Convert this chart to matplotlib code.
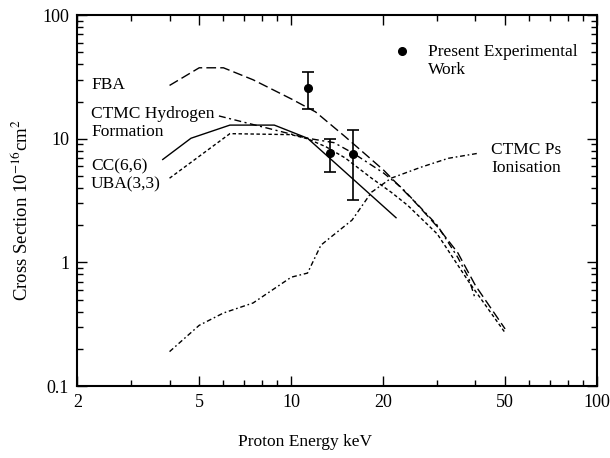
import matplotlib
matplotlib.use("Agg")
import matplotlib.pyplot as plt
from matplotlib.ticker import FixedLocator, NullFormatter, FixedFormatter

plt.rcParams['font.family'] = ['Liberation Serif', 'DejaVu Serif']
plt.rcParams['mathtext.fontset'] = 'stix'

# ---- data ----
fba_x = [4, 5, 6, 7.5, 10, 12, 15, 20, 25, 30, 35, 40, 50]
fba_y = [27, 37.5, 37.5, 30, 21, 16.5, 10.4, 5.6, 3.2, 1.95, 1.2, 0.65, 0.29]

ctmch_x = [5.8, 11.3, 13.8, 16, 20, 23, 30, 35, 38, 40]
ctmch_y = [15.3, 10.1, 9.3, 7.6, 5.3, 4.0, 2.0, 1.1, 0.75, 0.5]

cc_x = [3.8, 4.7, 6.3, 8.8, 11.3, 22]
cc_y = [6.8, 10.1, 12.9, 12.9, 10.1, 2.3]

uba_x = [4, 6.3, 10, 11.3, 13, 15, 18.3, 21.2, 24, 30, 38, 50]
uba_y = [4.8, 11, 10.8, 10, 8.6, 7, 4.8, 3.7, 2.9, 1.7, 0.7, 0.27]

ps_x = [4, 5, 6, 7.5, 10, 11.3, 12.5, 13.5, 15.8, 18.3, 21.2, 26.6, 32.6, 40.4]
ps_y = [0.19, 0.31, 0.39, 0.47, 0.76, 0.82, 1.38, 1.61, 2.2, 3.7, 4.8, 5.9, 6.95, 7.6]

exp_x = [11.3, 13.4, 15.9]
exp_y = [25.8, 7.7, 7.5]
exp_lo = [17.3, 5.4, 3.2]
exp_hi = [34.8, 9.9, 11.8]

xticks = [2, 5, 10, 20, 50, 100]
xticklabels = ["2", "5", "10", "20", "50", "100"]
yticks = [0.1, 1, 10, 100]
yticklabels = ["0.1", "1", "10", "100"]

fig = plt.figure(figsize=(6.1, 4.58), dpi=100)
ax = fig.add_axes([0.127, 0.157, 0.852, 0.810])
ax.set_xscale('log')
ax.set_yscale('log')
ax.set_xlim(2, 100)
ax.set_ylim(0.1, 100)

lw = 1.0
ax.plot(fba_x, fba_y, color='black', lw=lw, dashes=(7, 3))
ax.plot(ctmch_x, ctmch_y, color='black', lw=lw, dashes=(5, 2.5, 1.5, 2.5))
ax.plot(cc_x, cc_y, color='black', lw=lw, linestyle='-')
ax.plot(uba_x, uba_y, color='black', lw=lw, dashes=(2.5, 1.8))
ax.plot(ps_x, ps_y, color='black', lw=lw, dashes=(3.5, 2, 1.2, 2))

yerr = [[y - lo for y, lo in zip(exp_y, exp_lo)], [hi - y for y, hi in zip(exp_y, exp_hi)]]
ax.errorbar(exp_x, exp_y, yerr=yerr, fmt='o', color='black', ms=5.5,
            capsize=4, elinewidth=1.2, capthick=1.2)

# legend marker
ax.plot([0.625], [0.903], 'o', color='black', ms=5.5, transform=ax.transAxes, clip_on=False)

# ticks
minor_x = [3, 4, 6, 7, 8, 9, 30, 40, 60, 70, 80, 90]
ax.xaxis.set_major_locator(FixedLocator(xticks))
ax.xaxis.set_major_formatter(FixedFormatter(xticklabels))
ax.xaxis.set_minor_locator(FixedLocator(minor_x))
ax.xaxis.set_minor_formatter(NullFormatter())
minor_y = [m * d for d in [0.1, 1, 10] for m in range(2, 10)]
ax.yaxis.set_major_locator(FixedLocator(yticks))
ax.yaxis.set_major_formatter(FixedFormatter(yticklabels))
ax.yaxis.set_minor_locator(FixedLocator(minor_y))
ax.yaxis.set_minor_formatter(NullFormatter())
ax.tick_params(which='both', direction='in', top=True, right=True, labelsize=13, width=1.0)
ax.tick_params(which='major', length=7, pad=6)
ax.tick_params(which='minor', length=4)
for s in ax.spines.values():
    s.set_linewidth(1.5)

fs = 12.5
def t(px, py, s):
    fig.text(px / 610, 1 - py / 458, s, fontsize=fs, ha='left', va='center')

t(91, 85, "FBA")
t(91, 114, "CTMC Hydrogen")
t(91, 132, "Formation")
t(91, 166, "CC(6,6)")
t(91, 184, "UBA(3,3)")
t(491, 150, "CTMC Ps")
t(491, 168, "Ionisation")
t(428, 52, "Present Experimental")
t(428, 70, "Work")

fig.text(305 / 610, 1 - 442 / 458, "Proton Energy keV", fontsize=12.5, ha='center', va='center')
fig.text(21 / 610, 1 - 210 / 458, r"Cross Section 10$^{-16}$cm$^{2}$", fontsize=13.5,
         ha='center', va='center', rotation=90)

fig.savefig("out.png", dpi=100)
